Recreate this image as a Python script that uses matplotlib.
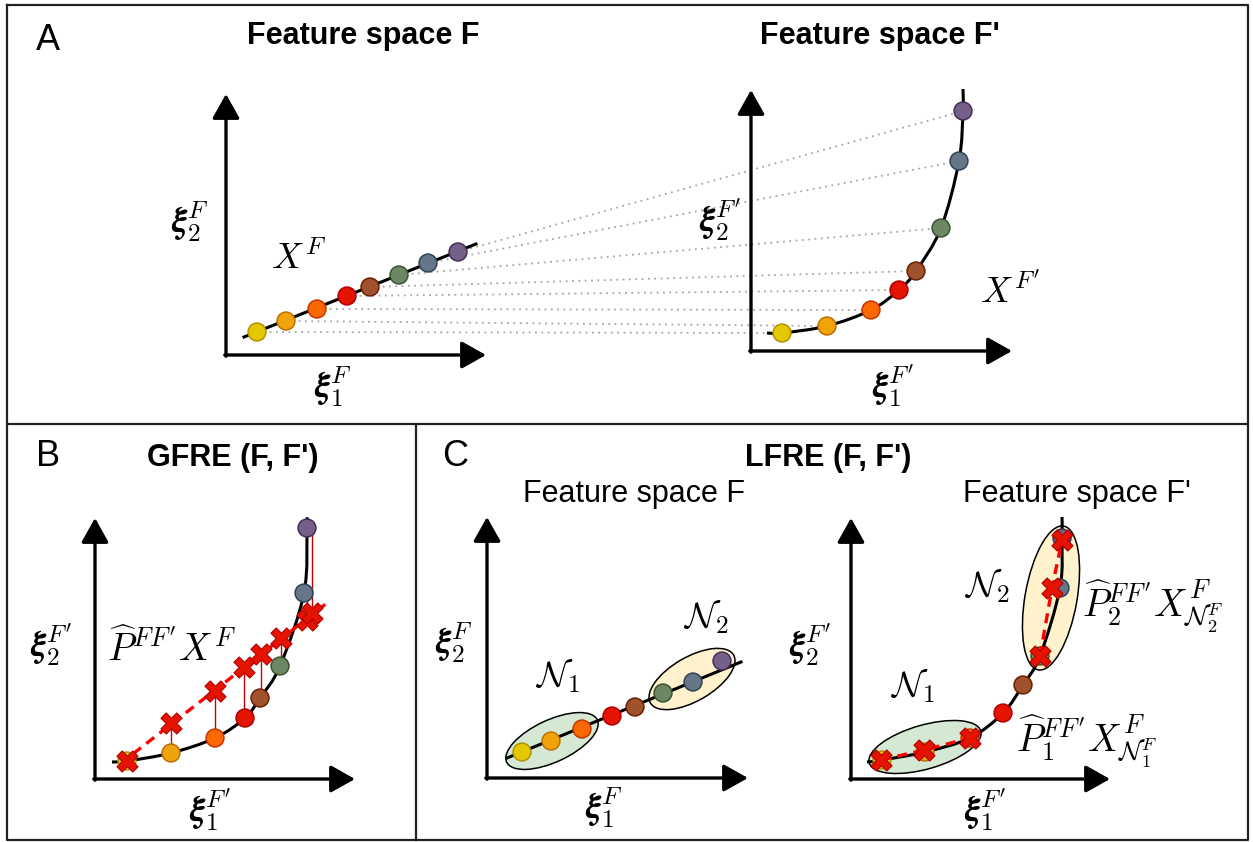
import numpy as np
import matplotlib
matplotlib.use("Agg")
import matplotlib.pyplot as plt
from matplotlib.path import Path
from matplotlib.patches import PathPatch, Ellipse

plt.rcParams["font.family"] = ["Liberation Sans", "DejaVu Sans"]
plt.rcParams["mathtext.fontset"] = "cm"

# ─── Daten (Pixelkoordinaten der Skizze, y nach unten) ─────────────────────────
FARBEN = ["#e3c800", "#f0a30a", "#fa6800", "#e51400",
          "#a0522d", "#6d8764", "#647687", "#76608a"]
RAENDER = ["#b09500", "#bd7000", "#c73500", "#b20000",
           "#6d1f00", "#3a5431", "#314354", "#432d57"]

# Panel A, links: Gerade
a_li_x = [257, 286, 317, 347, 370, 399, 428, 458]
a_li_y = [332, 321, 309, 296, 287, 275, 263, 252]
a_li_linie_x = [244, 476]
a_li_linie_y = [337, 244]

# Panel A, rechts: gekrümmte Kurve
a_re_x = [782, 827, 871, 899, 916, 941, 959, 963]
a_re_y = [333, 326, 310, 290, 271, 228, 161, 111]
a_re_start = (767, 333)
a_re_ende = (963, 89)

# Panel B
b_x = [127, 171, 215, 245, 260, 280, 304, 307]
b_y = [761, 753, 738, 718, 698, 666, 593, 528]
b_kreuz_x = [127, 171, 215, 244, 261, 281, 307, 312]
b_kreuz_y = [761, 723, 691, 667, 654, 638, 620, 613]
b_start = (112, 762)
b_ende = (307, 518)
b_gerade_x = [120, 327]
b_gerade_y = [764, 603]

# Panel C, links
c_li_x = [522, 551, 582, 612, 635, 663, 693, 722]
c_li_y = [752, 741, 729, 716, 707, 693, 682, 661]
c_li_linie_x = [507, 741]
c_li_linie_y = [758, 662]

# Panel C, rechts
c_re_x = [882, 925, 970, 1003, 1023, 1040, 1060, 1062]
c_re_y = [760, 752, 738, 713, 685, 656, 588, 538]
c_re_start = (867, 762)
c_re_ende = (1062, 517)
c_n1_kreuz_x = [881, 924, 970]
c_n1_kreuz_y = [760, 750, 738]
c_n2_kreuz_x = [1040, 1052, 1062]
c_n2_kreuz_y = [656, 588, 540]


def glatter_pfad(xs, ys):
    """Catmull-Rom durch die Stützpunkte als Bezier-Pfad."""
    p = np.column_stack([xs, ys]).astype(float)
    verts, codes = [p[0]], [Path.MOVETO]
    for i in range(len(p) - 1):
        p0 = p[i - 1] if i > 0 else p[i]
        p3 = p[i + 2] if i + 2 < len(p) else p[i + 1]
        verts += [p[i] + (p[i + 1] - p0) / 6, p[i + 1] - (p3 - p[i]) / 6, p[i + 1]]
        codes += [Path.CURVE4] * 3
    return Path(verts, codes)


def kurve(ax, xs, ys, start, ende):
    px = [start[0]] + list(xs) + [ende[0]]
    py = [start[1]] + list(ys) + [ende[1]]
    ax.add_patch(PathPatch(glatter_pfad(px, py), fill=False, lw=2.2,
                           ec="black", zorder=3, capstyle="butt"))


def achsen(ax, x0, y0, x1, y1):
    stil = "-|>,head_length=0.75,head_width=0.42"
    kw = dict(arrowstyle=stil, lw=2.4, color="black", mutation_scale=20,
              shrinkA=0, shrinkB=0)
    ax.annotate("", xy=(x0, y1), xytext=(x0, y0 + 1.2), arrowprops=kw)
    ax.annotate("", xy=(x1, y0), xytext=(x0 - 1.2, y0), arrowprops=kw)


def punkte(ax, xs, ys, z=5):
    ax.scatter(xs, ys, s=165, c=FARBEN, edgecolors=RAENDER,
               linewidths=1.1, zorder=z)


def kreuze(ax, xs, ys):
    ax.scatter(xs, ys, s=230, marker="X", c="#e51400", edgecolors="#b20000",
               linewidths=0.8, zorder=7)


fig = plt.figure(figsize=(12.53, 8.42), dpi=100)
ax = fig.add_axes([0, 0, 1, 1])
ax.set_xlim(0, 1253)
ax.set_ylim(842, 0)
ax.axis("off")

# Rahmen
rk = dict(color="#222222", lw=1.6, zorder=1)
ax.plot([7, 1248, 1248, 7, 7], [5, 5, 840, 840, 5], **rk)
ax.plot([7, 1248], [424, 424], **rk)
ax.plot([416, 416], [424, 840], **rk)

MF = 26   # Formelgröße
PF = 27   # Projektions-Formeln
# ─── Panel A ──────────────────────────────────────────────────────────────────
ax.text(48, 40, "A", fontsize=26, ha="center", va="center")
ax.text(363, 36, "Feature space F", fontsize=22, fontweight="bold",
        ha="center", va="center")
ax.text(880, 36, "Feature space F'", fontsize=22, fontweight="bold",
        ha="center", va="center")

achsen(ax, 226, 355, 486, 94)
ax.plot(a_li_linie_x, a_li_linie_y, color="black", lw=2.2, zorder=3)
for xl, yl, xr, yr in zip(a_li_x, a_li_y, a_re_x, a_re_y):
    ax.plot([xl, xr], [yl, yr], color="#a6a6a6", ls=(0, (1, 2.5)), lw=1.3,
            zorder=2)
punkte(ax, a_li_x, a_li_y)
ax.text(190, 222, r"$\boldsymbol{\xi}_2^F$", fontsize=MF, ha="center", va="center")
ax.text(299, 259, r"$X^F$", fontsize=MF, ha="center", va="center")
ax.text(333, 387, r"$\boldsymbol{\xi}_1^F$", fontsize=MF, ha="center", va="center")

achsen(ax, 751, 351, 1012, 90)
kurve(ax, a_re_x, a_re_y, a_re_start, a_re_ende)
punkte(ax, a_re_x, a_re_y)
ax.text(720, 220, r"$\boldsymbol{\xi}_2^{F'}$", fontsize=MF, ha="center", va="center")
ax.text(1010, 292, r"$X^{F'}$", fontsize=MF, ha="center", va="center")
ax.text(893, 386, r"$\boldsymbol{\xi}_1^{F'}$", fontsize=MF, ha="center", va="center")

# ─── Panel B ──────────────────────────────────────────────────────────────────
ax.text(48, 456, "B", fontsize=26, ha="center", va="center")
ax.text(233, 458, "GFRE (F, F')", fontsize=22, fontweight="bold",
        ha="center", va="center")
achsen(ax, 95, 779, 355, 518)
kurve(ax, b_x, b_y, b_start, b_ende)
for xp, yp, xk, yk in zip(b_x[1:], b_y[1:], b_kreuz_x[1:], b_kreuz_y[1:]):
    ax.plot([xk, xk], [yp, yk], color="#cc0000", lw=1.0, zorder=4)
ax.plot(b_gerade_x, b_gerade_y, color="#ff0000", lw=2.4, ls=(0, (3, 2)),
        zorder=4)
punkte(ax, b_x, b_y)
kreuze(ax, b_kreuz_x, b_kreuz_y)
ax.text(172, 649, r"$\widehat{P}^{FF'}X^F$", fontsize=PF, ha="center", va="center")
ax.text(51, 645, r"$\boldsymbol{\xi}_2^{F'}$", fontsize=MF, ha="center", va="center")
ax.text(210, 810, r"$\boldsymbol{\xi}_1^{F'}$", fontsize=MF, ha="center", va="center")

# ─── Panel C ──────────────────────────────────────────────────────────────────
ax.text(455, 456, "C", fontsize=26, ha="center", va="center")
ax.text(828, 458, "LFRE (F, F')", fontsize=22, fontweight="bold",
        ha="center", va="center")
ax.text(634, 494, "Feature space F", fontsize=22, ha="center", va="center")
ax.text(1077, 494, "Feature space F'", fontsize=22, ha="center", va="center")

# links
achsen(ax, 487, 778, 748, 517)
ax.add_patch(Ellipse((552, 741), 100, 42, angle=-25, fc="#d5e8d4",
                     ec="black", lw=1.1, zorder=2))
ax.add_patch(Ellipse((692, 679), 96, 44, angle=-30, fc="#fff2cc",
                     ec="black", lw=1.1, zorder=2))
ax.plot(c_li_linie_x, c_li_linie_y, color="black", lw=2.2, zorder=3)
punkte(ax, c_li_x, c_li_y)
ax.text(557, 676, r"$\mathcal{N}_1$", fontsize=MF, ha="center", va="center")
ax.text(706, 617, r"$\mathcal{N}_2$", fontsize=MF, ha="center", va="center")
ax.text(454, 643, r"$\boldsymbol{\xi}_2^F$", fontsize=MF, ha="center", va="center")
ax.text(604, 808, r"$\boldsymbol{\xi}_1^F$", fontsize=MF, ha="center", va="center")

# rechts
achsen(ax, 851, 779, 1110, 518)
ax.add_patch(Ellipse((925, 747), 116, 44, angle=-16, fc="#d5e8d4",
                     ec="black", lw=1.1, zorder=2))
ax.add_patch(Ellipse((1051, 598), 146, 52, angle=-80, fc="#fff2cc",
                     ec="black", lw=1.1, zorder=2))
kurve(ax, c_re_x, c_re_y, c_re_start, c_re_ende)
punkte(ax, c_re_x, c_re_y)
ax.plot(c_n1_kreuz_x, c_n1_kreuz_y, color="#ff0000", lw=2.4, ls=(0, (3, 2)),
        zorder=6)
ax.plot(c_n2_kreuz_x, c_n2_kreuz_y, color="#ff0000", lw=2.4, ls=(0, (3, 2)),
        zorder=6)
kreuze(ax, c_n1_kreuz_x, c_n1_kreuz_y)
kreuze(ax, c_n2_kreuz_x, c_n2_kreuz_y)
ax.text(912, 686, r"$\mathcal{N}_1$", fontsize=MF, ha="center", va="center")
ax.text(987, 586, r"$\mathcal{N}_2$", fontsize=MF, ha="center", va="center")
ax.text(1082, 606, r"$\widehat{P}_2^{FF'}X^F_{\mathcal{N}_2^F}$", fontsize=PF,
        ha="left", va="center")
ax.text(1016, 741, r"$\widehat{P}_1^{FF'}X^F_{\mathcal{N}_1^F}$", fontsize=PF,
        ha="left", va="center")
ax.text(810, 645, r"$\boldsymbol{\xi}_2^{F'}$", fontsize=MF, ha="center", va="center")
ax.text(985, 810, r"$\boldsymbol{\xi}_1^{F'}$", fontsize=MF, ha="center", va="center")

fig.savefig("out.png", dpi=100)
